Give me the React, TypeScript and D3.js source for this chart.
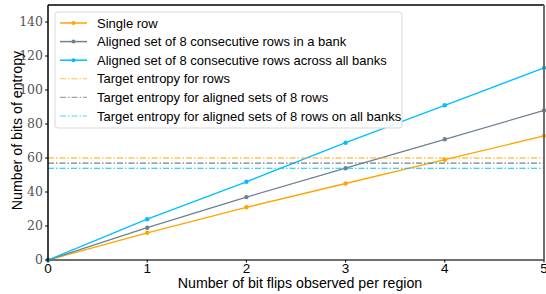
import * as d3 from "d3";

const width = 546;
const height = 294;
const margin = { top: 5, right: 2, bottom: 34, left: 48 };

const flips = [0, 1, 2, 3, 4, 5];
const singleRow = [0, 16, 31, 45, 59, 73];
const alignedBank = [0, 19, 37, 54, 71, 88];
const alignedAllBanks = [0, 24, 46, 69, 91, 113];

const targetRows = 60;
const targetAligned = 57;
const targetAlignedAll = 54;

const yTicks = [0, 20, 40, 60, 80, 100, 120, 140];
const xTicks = [0, 1, 2, 3, 4, 5];

const series = [
  { name: "Single row", values: singleRow, color: "#ffa500" },
  { name: "Aligned set of 8 consecutive rows in a bank", values: alignedBank, color: "#708090" },
  { name: "Aligned set of 8 consecutive rows across all banks", values: alignedAllBanks, color: "#00bfff" },
];

const targets = [
  { name: "Target entropy for rows", value: targetRows, color: "#ffa500" },
  { name: "Target entropy for aligned sets of 8 rows", value: targetAligned, color: "#708090" },
  { name: "Target entropy for aligned sets of 8 rows on all banks", value: targetAlignedAll, color: "#00bfff" },
];

const sans = "'Liberation Sans', Arial, sans-serif";
const serif = "'DejaVu Serif', 'Liberation Serif', serif";

export default function App() {
  const x = d3.scaleLinear().domain([0, 5]).range([margin.left, width - margin.right]);
  const y = d3.scaleLinear().domain([0, 150]).range([height - margin.bottom, margin.top]);
  const line = d3
    .line<number>()
    .x((_, i) => x(flips[i]))
    .y((d) => y(d));

  const legendX = 55;
  const legendY = 12;
  const rowH = 18.6;

  return (
    <svg
      width={width}
      height={height}
      style={{ position: "absolute", left: 0, top: 0, background: "white" }}
    >
      {/* series */}
      {series.map((s) => (
        <g key={s.name}>
          <path d={line(s.values) ?? ""} fill="none" stroke={s.color} strokeWidth={1.3} />
          {s.values.map((v, i) => (
            <circle key={i} cx={x(flips[i])} cy={y(v)} r={2.2} fill={s.color} />
          ))}
        </g>
      ))}
      {targets.map((t) => (
        <line
          key={t.name}
          x1={x(0)}
          x2={x(5)}
          y1={y(t.value)}
          y2={y(t.value)}
          stroke={t.color}
          strokeWidth={1.1}
          strokeDasharray="6 2 1.5 2"
        />
      ))}

      {/* frame */}
      <line x1={x(0)} x2={x(5)} y1={y(150)} y2={y(150)} stroke="#000" strokeWidth={1.5} />
      <line x1={x(0)} x2={x(5)} y1={y(0)} y2={y(0)} stroke="#6e6e6e" strokeWidth={2} />
      <line x1={x(5)} x2={x(5)} y1={y(0)} y2={y(150)} stroke="#6e6e6e" strokeWidth={2} />
      <line x1={x(0)} x2={x(0)} y1={y(0)} y2={y(150)} stroke="#000" strokeWidth={1.5} />

      {/* y ticks */}
      {yTicks.map((t) => (
        <g key={t}>
          <line x1={x(0) - 3} x2={x(0)} y1={y(t)} y2={y(t)} stroke="#000" />
          <text
            x={x(0) - 5}
            y={y(t)}
            dy="0.35em"
            textAnchor="end"
            fontFamily={serif}
            fontSize={12.5}
            fill="#555"
          >
            {t}
          </text>
        </g>
      ))}

      {/* x ticks */}
      {xTicks.map((t) => (
        <g key={t}>
          <line x1={x(t)} x2={x(t)} y1={y(0)} y2={y(0) + 2.5} stroke="#000" />
          <text
            x={x(t)}
            y={273}
            textAnchor="middle"
            fontFamily={sans}
            fontSize={13.5}
            fill="#000"
          >
            {t}
          </text>
        </g>
      ))}

      <text
        x={(x(0) + x(5)) / 2 + 4}
        y={288}
        textAnchor="middle"
        fontFamily={sans}
        fontSize={14.2}
      >
        Number of bit flips observed per region
      </text>
      <text
        transform={`translate(22,${(y(0) + y(150)) / 2 - 2}) rotate(-90)`}
        textAnchor="middle"
        fontFamily={sans}
        fontSize={14.2}
      >
        Number of bits of entropy
      </text>

      {/* legend */}
      <rect
        x={legendX}
        y={legendY}
        width={347}
        height={116}
        rx={3}
        fill="white"
        fillOpacity={0.85}
        stroke="#d9d9d9"
      />
      {series.map((s, i) => {
        const ly = legendY + 11 + i * rowH;
        return (
          <g key={s.name}>
            <line x1={60} x2={87} y1={ly} y2={ly} stroke={s.color} strokeWidth={1.5} />
            <circle cx={73.5} cy={ly} r={2} fill={s.color} />
            <text x={97} y={ly} dy="0.35em" fontFamily={sans} fontSize={13}>
              {s.name}
            </text>
          </g>
        );
      })}
      {targets.map((t, i) => {
        const ly = legendY + 11 + (i + 3) * rowH;
        return (
          <g key={t.name}>
            <line
              x1={60}
              x2={87}
              y1={ly}
              y2={ly}
              stroke={t.color}
              strokeOpacity={0.7}
              strokeWidth={1.1}
              strokeDasharray="6 2 1.5 2"
            />
            <text x={97} y={ly} dy="0.35em" fontFamily={sans} fontSize={13}>
              {t.name}
            </text>
          </g>
        );
      })}
    </svg>
  );
}
